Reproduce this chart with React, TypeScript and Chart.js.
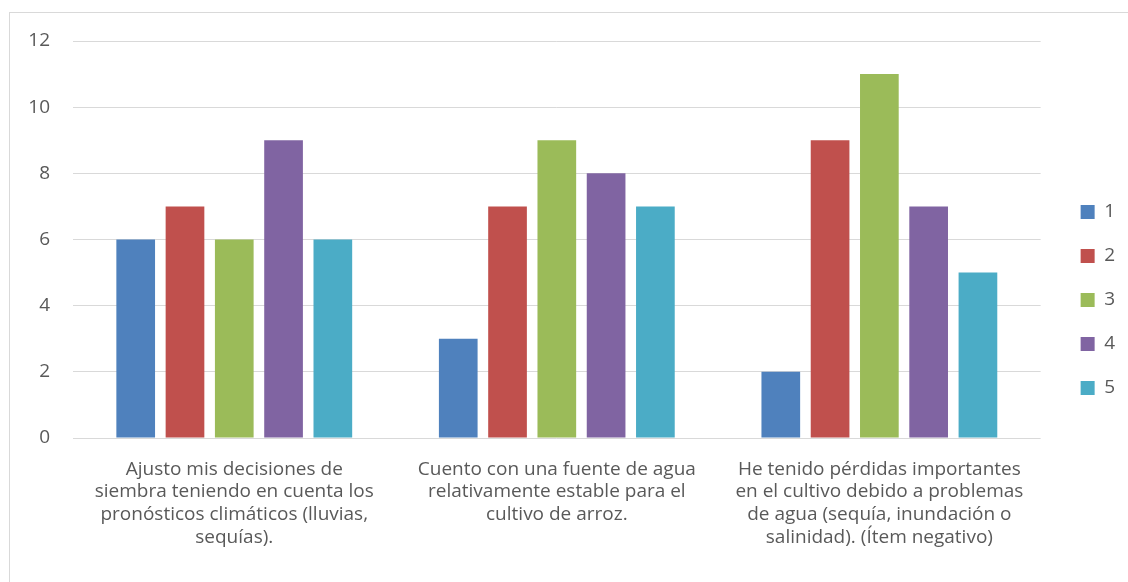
import React, { useEffect, useRef } from "react";
import { Chart, registerables } from "chart.js";

Chart.register(...registerables);

const categories: string[][] = [
  ["Ajusto mis decisiones de", "siembra teniendo en cuenta los", "pronósticos climáticos (lluvias,", "sequías)."],
  ["Cuento con una fuente de agua", "relativamente estable para el", "cultivo de arroz."],
  ["He tenido pérdidas importantes", "en el cultivo debido a problemas", "de agua (sequía, inundación o", "salinidad). (Ítem negativo)"],
];

const seriesNames = ["1", "2", "3", "4", "5"];
const series1 = [6, 3, 2];
const series2 = [7, 7, 9];
const series3 = [6, 9, 11];
const series4 = [9, 8, 7];
const series5 = [6, 7, 5];
const seriesColors = ["#4f81bd", "#c0504d", "#9bbb59", "#8064a2", "#4bacc6"];
const yTicks = [0, 2, 4, 6, 8, 10, 12];

const FONT = "'Open Sans', 'Noto Sans', sans-serif";
const FS = 19;
const TXT = "#595959";

export default function App() {
  const ref = useRef<HTMLCanvasElement | null>(null);

  useEffect(() => {
    if (!ref.current) return;
    const values = [series1, series2, series3, series4, series5];
    const chart = new Chart(ref.current, {
      type: "bar",
      data: {
        labels: categories,
        datasets: values.map((v, i) => ({
          label: seriesNames[i],
          data: v,
          backgroundColor: seriesColors[i],
          borderWidth: 0,
          categoryPercentage: 0.764,
          barPercentage: 0.785,
        })),
      },
      options: {
        responsive: false,
        animation: false,
        devicePixelRatio: 1,
        layout: { padding: { top: 0, right: 3, bottom: 0, left: 0 } },
        plugins: {
          tooltip: { enabled: false },
          legend: {
            position: "right",
            align: "center",
            labels: {
              boxWidth: 14,
              boxHeight: 14,
              padding: 25,
              color: TXT,
              font: { family: FONT, size: FS },
            },
          },
        },
        scales: {
          x: {
            grid: { display: false, drawTicks: false },
            border: { display: false },
            ticks: {
              color: TXT,
              font: { family: FONT, size: FS, lineHeight: 1.19 },
              padding: 20,
              maxRotation: 0,
              minRotation: 0,
              autoSkip: false,
            },
            afterFit: (s: any) => {
              s.height = 149;
            },
          },
          xTop: {
            type: "category",
            position: "top",
            display: true,
            grid: { display: false, drawTicks: false },
            border: { display: false },
            ticks: { display: false },
            afterFit: (s: any) => {
              s.height = 28;
            },
          },
          y: {
            min: 0,
            max: 12,
            afterBuildTicks: (s: any) => {
              s.ticks = yTicks.map((v) => ({ value: v }));
            },
            grid: {
              color: "#d9d9d9",
              lineWidth: 1,
              drawTicks: true,
              tickLength: 23,
              tickColor: "rgba(0,0,0,0)",
            },
            border: { display: false },
            ticks: {
              color: TXT,
              font: { family: FONT, size: FS },
              padding: 0,
            },
            afterFit: (s: any) => {
              s.width = 63;
            },
          },
          yRight: {
            type: "linear",
            position: "right",
            display: true,
            grid: { display: false, drawTicks: false },
            border: { display: false },
            ticks: { display: false },
            afterFit: (s: any) => {
              s.width = 15;
            },
          },
        },
      } as any,
    });
    return () => chart.destroy();
  }, []);

  return (
    <div
      style={{
        position: "fixed",
        left: 0,
        top: 0,
        width: 1128,
        height: 582,
        overflow: "hidden",
        background: "#fff",
      }}
    >
      <div
        style={{
          position: "absolute",
          left: 9,
          top: 12,
          width: 1140,
          height: 600,
          borderLeft: "1px solid #d9d9d9",
          borderTop: "1px solid #d9d9d9",
        }}
      >
        <canvas ref={ref} width={1118} height={574} style={{ display: "block", width: 1118, height: 574 }} />
      </div>
    </div>
  );
}
